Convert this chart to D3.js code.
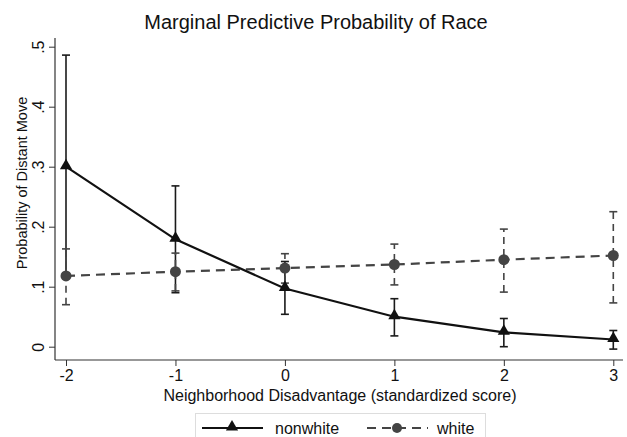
<!DOCTYPE html>
<html>
<head>
<meta charset="utf-8">
<script src="https://cdn.jsdelivr.net/npm/d3@7"></script>
<style>
  body { margin: 0; background: #fff; }
  svg { display: block; font-family: "Liberation Sans", Arial, sans-serif; }
</style>
</head>
<body>
<svg id="chart" width="627" height="437"></svg>
<script>
var xValues = [-2, -1, 0, 1, 2, 3];
var xTickLabels = ["-2", "-1", "0", "1", "2", "3"];
var yTicks = [0, 0.1, 0.2, 0.3, 0.4, 0.5];
var yTickLabels = ["0", ".1", ".2", ".3", ".4", ".5"];

var nonwhite = [0.300, 0.179, 0.097, 0.050, 0.024, 0.012];
var nonwhiteLow = [0.114, 0.090, 0.054, 0.018, 0.000, -0.004];
var nonwhiteHigh = [0.486, 0.268, 0.142, 0.080, 0.047, 0.027];

var white = [0.118, 0.125, 0.131, 0.137, 0.145, 0.152];
var whiteLow = [0.070, 0.093, 0.106, 0.103, 0.091, 0.073];
var whiteHigh = [0.163, 0.156, 0.155, 0.171, 0.196, 0.225];

var svg = d3.select("#chart");

var plot = { left: 55, right: 623, top: 38, bottom: 360 };

var x = d3.scaleLinear().domain([-2, 3]).range([66, 613.3]);
var y = d3.scaleLinear().domain([0, 0.5]).range([346.7, 46.7]);

var fs = "16px";

// title
svg.append("text")
  .attr("x", 316).attr("y", 29)
  .attr("text-anchor", "middle")
  .style("font-size", "20px")
  .attr("fill", "#111")
  .text("Marginal Predictive Probability of Race");

// axes
var axisColor = "#333";

var yAxis = svg.append("g")
  .attr("transform", "translate(" + plot.left + ",0)")
  .call(d3.axisLeft(y).tickValues(yTicks)
    .tickFormat(function(d, i) { return yTickLabels[i]; })
    .tickSize(6).tickPadding(5));
yAxis.select(".domain").remove();
yAxis.selectAll(".tick line").attr("stroke", axisColor);
yAxis.selectAll(".tick text")
  .attr("transform", "rotate(-90)")
  .attr("x", 0).attr("y", -11)
  .attr("dy", 0)
  .attr("text-anchor", "middle")
  .style("font-size", fs)
  .attr("fill", "#111");

var xAxis = svg.append("g")
  .attr("transform", "translate(0," + plot.bottom + ")")
  .call(d3.axisBottom(x).tickValues(xValues)
    .tickFormat(function(d, i) { return xTickLabels[i]; })
    .tickSize(6).tickPadding(4));
xAxis.select(".domain").remove();
xAxis.selectAll(".tick line").attr("stroke", axisColor);
xAxis.selectAll(".tick text")
  .style("font-size", fs)
  .attr("fill", "#111");

svg.append("line")
  .attr("x1", plot.left).attr("x2", plot.left)
  .attr("y1", plot.top).attr("y2", plot.bottom)
  .attr("stroke", axisColor).attr("stroke-width", 1.2);
svg.append("line")
  .attr("x1", plot.left).attr("x2", plot.right)
  .attr("y1", plot.bottom).attr("y2", plot.bottom)
  .attr("stroke", axisColor).attr("stroke-width", 1.2);

// axis titles
svg.append("text")
  .attr("transform", "translate(27,183) rotate(-90)")
  .attr("text-anchor", "middle")
  .style("font-size", "14.5px")
  .attr("fill", "#111")
  .text("Probability of Distant Move");

svg.append("text")
  .attr("x", 340).attr("y", 401)
  .attr("text-anchor", "middle")
  .style("font-size", fs)
  .attr("fill", "#111")
  .text("Neighborhood Disadvantage (standardized score)");

// error bars
var capW = 4;
function errorBars(lo, hi, color, dash) {
  var g = svg.append("g");
  xValues.forEach(function(xv, i) {
    g.append("line")
      .attr("x1", x(xv)).attr("x2", x(xv))
      .attr("y1", y(lo[i])).attr("y2", y(hi[i]))
      .attr("stroke", color).attr("stroke-width", 1.6)
      .attr("stroke-dasharray", dash);
    [lo[i], hi[i]].forEach(function(v) {
      g.append("line")
        .attr("x1", x(xv) - capW).attr("x2", x(xv) + capW)
        .attr("y1", y(v)).attr("y2", y(v))
        .attr("stroke", color).attr("stroke-width", 1.6);
    });
  });
}
errorBars(nonwhiteLow, nonwhiteHigh, "#1a1a1a", null);
errorBars(whiteLow, whiteHigh, "#444", "7,5");

// lines
var line = d3.line()
  .x(function(d, i) { return x(xValues[i]); })
  .y(function(d) { return y(d); });

svg.append("path")
  .datum(white)
  .attr("d", line)
  .attr("fill", "none")
  .attr("stroke", "#444")
  .attr("stroke-width", 2.2)
  .attr("stroke-dasharray", "9,6");

svg.append("path")
  .datum(nonwhite)
  .attr("d", line)
  .attr("fill", "none")
  .attr("stroke", "#111")
  .attr("stroke-width", 2.2);

// markers
var tri = d3.symbol().type(d3.symbolTriangle).size(64);
svg.append("g").selectAll("path")
  .data(nonwhite)
  .join("path")
  .attr("d", tri)
  .attr("transform", function(d, i) { return "translate(" + x(xValues[i]) + "," + (y(d) - 1) + ")"; })
  .attr("fill", "#111");

svg.append("g").selectAll("circle")
  .data(white)
  .join("circle")
  .attr("cx", function(d, i) { return x(xValues[i]); })
  .attr("cy", function(d) { return y(d); })
  .attr("r", 5.5)
  .attr("fill", "#444");

// legend
var legend = svg.append("g");
legend.append("rect")
  .attr("x", 195.5).attr("y", 413.5)
  .attr("width", 290).attr("height", 30)
  .attr("fill", "#fff")
  .attr("stroke", "#ddd");

legend.append("line")
  .attr("x1", 202).attr("x2", 263).attr("y1", 428).attr("y2", 428)
  .attr("stroke", "#111").attr("stroke-width", 2.2);
legend.append("path")
  .attr("d", tri)
  .attr("transform", "translate(232,427)")
  .attr("fill", "#111");
legend.append("text")
  .attr("x", 275).attr("y", 434)
  .style("font-size", fs).attr("fill", "#111")
  .text("nonwhite");

legend.append("line")
  .attr("x1", 367).attr("x2", 428).attr("y1", 428).attr("y2", 428)
  .attr("stroke", "#444").attr("stroke-width", 2.2)
  .attr("stroke-dasharray", "9,6");
legend.append("circle")
  .attr("cx", 397).attr("cy", 428).attr("r", 5)
  .attr("fill", "#444");
legend.append("text")
  .attr("x", 437).attr("y", 434)
  .style("font-size", fs).attr("fill", "#111")
  .text("white");
</script>
</body>
</html>
